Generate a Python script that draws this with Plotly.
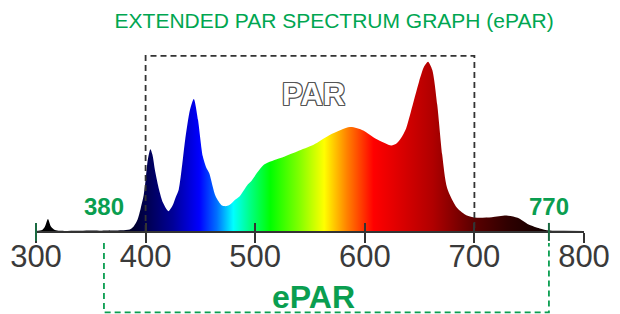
import plotly.graph_objects as go

# ---- data ----
wavelength = [300, 305.5, 308.2, 310.9, 313.6, 317.3, 321.8, 350.9, 360, 378.2,
              385.5, 389.1, 392.7, 395.5, 398.2, 400.0, 402.0, 404.4, 406.2, 408.8,
              412.3, 415.8, 420.8, 424.6, 427.3, 430.2, 433.4, 436.1, 440.5, 444.0,
              447.8, 452.2, 455.4, 458.0, 463.9, 469.7, 473.9, 477.1, 480.9, 485.9,
              493.2, 496.1, 508.1, 523.1, 538.2, 553.3, 568.4, 586.5, 598.6, 610.5,
              624.1, 628.6, 633.1, 637.6, 642.1, 649.5, 654.1, 657.7, 661.6, 666.1,
              670.6, 675.1, 684.1, 693.2, 702.4, 715.9, 729.3, 739.4, 749.5, 759.6,
              768.1, 781.5, 800]
intensity = [0, 0.6, 2.7, 7.1, 2.7, 0.6, 0.1, 0.3, 0.2, 0.4,
             0.9, 2.7, 6.8, 13.3, 20.9, 30.0, 42.0, 48.3, 45.1, 35.0,
             24.4, 16.8, 11.7, 15.0, 19.7, 24.4, 39.2, 53.9, 71.6, 78.0,
             65.7, 44.1, 37.4, 34.3, 20.5, 15.0, 14.7, 15.6, 18.0, 20.5,
             27.4, 29.3, 39.2, 43.1, 47.0, 50.9, 56.8, 61.4, 59.4, 54.3,
             50.5, 51.5, 54.9, 60.4, 70.6, 88.2, 97.1, 100.0, 95.1, 74.5,
             45.1, 25.4, 13.7, 9.1, 7.8, 8.1, 9.1, 7.8, 3.8, 1.5,
             0.3, 0.1, 0]

tick_values = [300, 400, 500, 600, 700, 800]
par_range = [400, 700]
epar_range = [362, 768]
epar_labels = ["380", "770"]

# spectrum colours (wavelength nm, colour)
spectrum_stops = [(300, "#000000"), (370, "#04040e"), (390, "#000030"), (400, "#00004e"),
                  (425, "#000098"), (449, "#0000ff"), (465, "#0070ff"), (480, "#00ffff"),
                  (495, "#00ff88"), (514, "#00ff00"), (540, "#80ff00"), (563, "#ffff00"),
                  (584, "#ff8000"), (608, "#ff0000"), (624, "#e80000"), (662, "#b00000"),
                  (690, "#700000"), (700, "#5a0000"), (730, "#300000"), (760, "#150000"),
                  (770, "#050000"), (800, "#000000")]

X0, X1 = 300, 800
colorscale = [[(w - X0) / (X1 - X0), c] for w, c in spectrum_stops]

GREEN = "#0a9e50"
DARKGREEN = "#1b6b42"
AXIS = "#333333"
NARROW = "Liberation Sans Narrow, Arial Narrow, Liberation Sans, Arial"

fig = go.Figure()
fig.add_trace(go.Scatter(
    x=wavelength, y=intensity, mode="lines",
    line=dict(width=0, shape="spline", smoothing=0.7),
    fill="tozeroy",
    fillgradient=dict(type="horizontal", colorscale=colorscale, start=X0, stop=X1),
    hoverinfo="skip", showlegend=False,
))
# invisible trace to carry the overlay axis (inner half of the crossing ticks)
fig.add_trace(go.Scatter(x=wavelength, y=intensity, mode="none", xaxis="x2",
                         hoverinfo="skip", showlegend=False))

fig.update_layout(
    width=620, height=314,
    margin=dict(l=36, r=36, t=0, b=83),
    paper_bgcolor="white", plot_bgcolor="white",
    xaxis=dict(range=[X0, X1], tickvals=tick_values, ticktext=[str(v) for v in tick_values],
               ticks="outside", ticklen=10, tickwidth=1.6, tickcolor=AXIS,
               ticklabelstandoff=-13,
               showline=True, linecolor=AXIS, linewidth=2, showgrid=False, zeroline=False,
               tickfont=dict(family=NARROW, size=31, color="#3a3a3a")),
    xaxis2=dict(range=[X0, X1], overlaying="x", anchor="y", side="bottom",
                tickvals=tick_values, ticks="inside", ticklen=8, tickwidth=1.6,
                tickcolor=AXIS, showticklabels=False, showgrid=False, zeroline=False,
                showline=False),
    yaxis=dict(range=[0, 136.4], visible=False),
    title=dict(text="EXTENDED PAR SPECTRUM GRAPH (ePAR)", x=0.544, xref="paper",
               y=1 - 20.5 / 314, yanchor="middle", xanchor="center",
               font=dict(family=NARROW, size=21, color="#00a651")),
)

# PAR dashed box
fig.add_shape(type="path", xref="x", yref="paper",
              path=f"M {par_range[0]},0 L {par_range[0]},0.758 L {par_range[1]},0.758 L {par_range[1]},0",
              line=dict(color=AXIS, width=1.8, dash="6px,4px"))
# ePAR dashed box (below the axis)
fig.add_shape(type="path", xref="x", yref="paper",
              path=(f"M {epar_range[0]},-0.052 L {epar_range[0]},-0.352 "
                    f"L {epar_range[1]},-0.352 L {epar_range[1]},-0.052"),
              line=dict(color=GREEN, width=1.8, dash="6px,4px"))
# green ticks at 770 and at the axis start
fig.add_shape(type="line", xref="x", yref="paper", x0=epar_range[1], x1=epar_range[1],
              y0=0.035, y1=-0.043, line=dict(color=DARKGREEN, width=2))
fig.add_shape(type="line", xref="paper", yref="paper", x0=0, x1=0,
              y0=0.035, y1=-0.043, line=dict(color=DARKGREEN, width=2))

# labels
for xv, txt in zip(epar_range, epar_labels):
    fig.add_annotation(x=xv, y=0.104, xref="x", yref="paper", text=f"<b>{txt}</b>",
                       showarrow=False, xanchor="center", yanchor="middle",
                       font=dict(family="Liberation Sans, Arial", size=24, color=GREEN))

fig.add_annotation(x=0.506, y=0.592, xref="paper", yref="paper", text="<b>PAR</b>",
                   showarrow=False, xanchor="center", yanchor="middle",
                   font=dict(family="Liberation Sans, Arial", size=31, color="white",
                             shadow="1px 1px 0 #555, -1px -1px 0 #555, 1px -1px 0 #555, -1px 1px 0 #555, 0 1px 0 #555, 0 -1px 0 #555, 1px 0 0 #555, -1px 0 0 #555"))

fig.add_annotation(x=0.506, y=-0.284, xref="paper", yref="paper", text="<b>ePAR</b>",
                   showarrow=False, xanchor="center", yanchor="middle",
                   font=dict(family="Liberation Sans, Arial", size=32, color=GREEN))

fig.write_html("out.html", post_script="document.body.style.margin='0';",
               config={"displayModeBar": False})
